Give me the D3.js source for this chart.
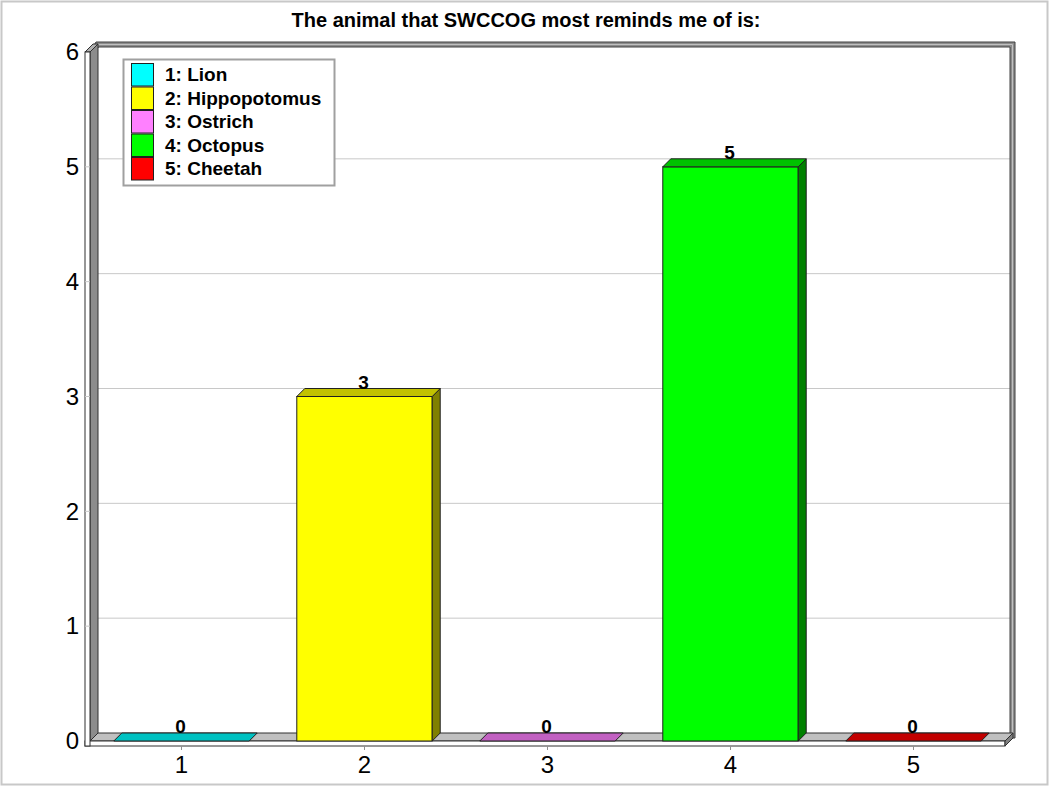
<!DOCTYPE html>
<html>
<head>
<meta charset="utf-8">
<script src="https://cdn.jsdelivr.net/npm/d3@7"></script>
<style>
  html, body { margin: 0; padding: 0; background: #fff; }
  svg { display: block; font-family: "Liberation Sans", Arial, sans-serif; }
</style>
</head>
<body>
<svg id="chart" width="1050" height="786"></svg>
<script>
// Survey answers: "The animal that SWCCOG most reminds me of is:"
const categories = ["1", "2", "3", "4", "5"];
const animals = ["1: Lion", "2: Hippopotomus", "3: Ostrich", "4: Octopus", "5: Cheetah"];
const counts = [0, 3, 0, 5, 0];
const colors = ["#00ffff", "#ffff00", "#ff80ff", "#00ff00", "#ff0000"];
const yTicks = [0, 1, 2, 3, 4, 5, 6];
const title = "The animal that SWCCOG most reminds me of is:";

const svg = d3.select("#chart");
const W = 1050, H = 786;
const depth = 8;                 // 3D offset (right / up)
const left = 90, right = 1005;   // front plane x extent
const y0 = 741, yTop = 52;       // front plane y extent

const x = d3.scaleBand().domain(categories).range([left, right])
  .paddingInner(0.26).paddingOuter(0.13);
const y = d3.scaleLinear().domain([0, 6]).range([y0, yTop]);

// outer frame
svg.append("rect").attr("x", 1.5).attr("y", 1.5).attr("width", W - 4).attr("height", H - 3)
  .attr("fill", "#fff").attr("stroke", "#c8c8c8").attr("stroke-width", 2);

// title
svg.append("text").attr("x", 526).attr("y", 27).attr("text-anchor", "middle")
  .attr("font-weight", "bold").attr("font-size", 20).text(title);

const g = svg.append("g");

// back wall
const bx0 = left + depth, bx1 = right + depth, by0 = y0 - depth, byTop = yTop - depth;
g.append("rect").attr("x", bx0).attr("y", byTop).attr("width", bx1 - bx0).attr("height", by0 - byTop)
  .attr("fill", "#fff");

// gridlines: across left wall side and along back wall
yTicks.filter(v => v > 0 && v < 6).forEach(v => {
  g.append("path")
    .attr("d", `M${left - 4},${y(v)}L${left},${y(v)}L${bx0},${y(v) - depth}L${bx1},${y(v) - depth}`)
    .attr("fill", "none").attr("stroke", "#c8c8c8").attr("stroke-width", 1);
});

// back wall raised frame (top and right edges)
g.append("path")
  .attr("d", `M${left},${yTop}L${bx0 - 2},${byTop - 2}L${bx1 + 2},${byTop - 2}L${bx1 + 2},${by0 + 5}L${bx1 - 3},${by0 + 5}L${bx1 - 3},${byTop + 3}L${bx0 + 1},${byTop + 3}Z`)
  .attr("fill", "#8c8c8c").attr("stroke", "#404040").attr("stroke-width", 1);
g.append("path")
  .attr("d", `M${bx0},${byTop + 0.5}L${bx1 - 0.5},${byTop + 0.5}L${bx1 - 0.5},${by0 + 4}`)
  .attr("fill", "none").attr("stroke", "#c0c0c0").attr("stroke-width", 1);

// floor top face
g.append("path")
  .attr("d", `M${left},${y0}L${bx0},${by0}L${bx1},${by0}L${right},${y0}Z`)
  .attr("fill", "#c0c0c0").attr("stroke", "#303030").attr("stroke-width", 1);
// floor front face
g.append("rect").attr("x", left - 5).attr("y", y0).attr("width", right - left + 5).attr("height", 5)
  .attr("fill", "#fff").attr("stroke", "#303030").attr("stroke-width", 1);
// floor right end
g.append("path")
  .attr("d", `M${right},${y0}L${bx1},${by0}L${bx1},${by0 + 5}L${right},${y0 + 5}Z`)
  .attr("fill", "#808080").attr("stroke", "#303030").attr("stroke-width", 1);

// left wall: side face and front edge
g.append("path")
  .attr("d", `M${left},${yTop}L${bx0},${byTop}L${bx0},${by0}L${left},${y0}Z`)
  .attr("fill", "#8c8c8c").attr("stroke", "#303030").attr("stroke-width", 1);
g.append("path")
  .attr("d", `M${left - 5},${yTop}L${left - 5 + depth},${byTop}L${bx0},${byTop}L${left},${yTop}Z`)
  .attr("fill", "#b0b0b0").attr("stroke", "#303030").attr("stroke-width", 1);
g.append("rect").attr("x", left - 5).attr("y", yTop).attr("width", 5).attr("height", y0 + 5 - yTop)
  .attr("fill", "#fff").attr("stroke", "#303030").attr("stroke-width", 1);
// gridline ticks over left wall face
yTicks.filter(v => v > 0 && v < 6).forEach(v => {
  g.append("line").attr("x1", left - 5).attr("x2", left).attr("y1", y(v)).attr("y2", y(v))
    .attr("stroke", "#c8c8c8");
});

// bars
const shade = (c, k) => { const r = d3.rgb(c); return d3.rgb(r.r * k, r.g * k, r.b * k).formatHex(); };
const data = categories.map((c, i) => ({ cat: c, value: counts[i], color: colors[i] }));
const bars = g.selectAll("g.bar").data(data).join("g").attr("class", "bar");
bars.each(function (d) {
  const sel = d3.select(this);
  const xa = x(d.cat), xb = x(d.cat) + x.bandwidth(), yv = y(d.value);
  if (d.value > 0) {
    sel.append("rect").attr("x", xa).attr("y", yv).attr("width", xb - xa).attr("height", y0 - yv)
      .attr("fill", d.color).attr("stroke", "#202020").attr("stroke-width", 1);
    sel.append("path")
      .attr("d", `M${xb},${yv}L${xb + depth},${yv - depth}L${xb + depth},${by0}L${xb},${y0}Z`)
      .attr("fill", shade(d.color, 0.5)).attr("stroke", "#202020").attr("stroke-width", 1);
  }
  sel.append("path")
    .attr("d", `M${xa},${yv}L${xa + depth},${yv - depth}L${xb + depth},${yv - depth}L${xb},${yv}Z`)
    .attr("fill", shade(d.color, 0.76)).attr("stroke", "#202020").attr("stroke-width", 1);
  sel.append("text").attr("x", xa + x.bandwidth() / 2 - 1).attr("y", yv - depth)
    .attr("text-anchor", "middle").attr("font-weight", "bold").attr("font-size", 19)
    .text(d.value);
});

// y axis labels
const yAxis = d3.axisLeft(y).tickValues(yTicks).tickSize(0).tickPadding(0).tickFormat(d3.format("d"));
const ya = svg.append("g").attr("transform", `translate(79,0)`).call(yAxis);
ya.select(".domain").remove();
ya.selectAll("text").attr("font-size", 24).attr("font-family", "Liberation Sans, Arial, sans-serif")
  .attr("fill", "#000");

// x axis labels and ticks
const xAxis = d3.axisBottom(x).tickSize(4).tickPadding(6);
const xa = svg.append("g").attr("transform", `translate(0,${y0 + 5})`).call(xAxis);
xa.select(".domain").remove();
xa.selectAll("line").attr("stroke", "#909090");
xa.selectAll("text").attr("font-size", 24).attr("font-family", "Liberation Sans, Arial, sans-serif")
  .attr("fill", "#000");

// legend
const lg = svg.append("g").attr("transform", "translate(123,59)");
lg.append("rect").attr("x", 0.5).attr("y", 0.5).attr("width", 211).attr("height", 126)
  .attr("fill", "#fff").attr("stroke", "#a0a0a0").attr("stroke-width", 2);
const rowH = 23.5;
const items = lg.selectAll("g.item").data(animals).join("g").attr("class", "item")
  .attr("transform", (d, i) => `translate(8,${4 + i * rowH})`);
items.append("rect").attr("x", 0.5).attr("y", 0.5).attr("width", 22).attr("height", rowH - 1)
  .attr("fill", (d, i) => colors[i]).attr("stroke", "#202020");
items.append("text").attr("x", 34).attr("y", 18).attr("font-weight", "bold").attr("font-size", 19)
  .text(d => d);
</script>
</body>
</html>
